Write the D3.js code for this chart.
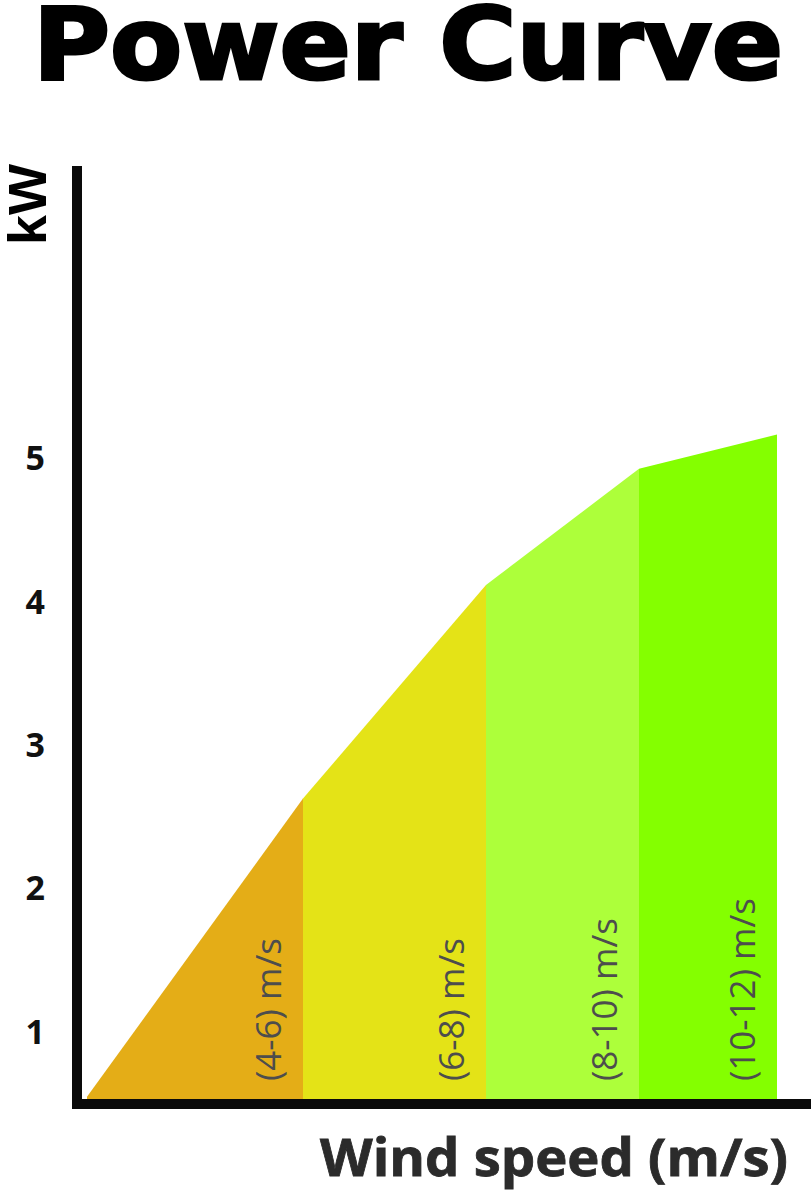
<!DOCTYPE html>
<html lang="en">
<head>
  <meta charset="UTF-8">
  <title>Power Curve</title>
  <script src="https://cdnjs.cloudflare.com/ajax/libs/d3/7.8.5/d3.min.js"></script>
  <style>
    body { margin: 0; background: #fff; }
    svg { display: block; }
  </style>
</head>
<body>
  <div id="chart"></div>
  <script>
    // data
    const speeds = [4, 6, 8, 10, 12];              // m/s
    const power = [0.55, 2.63, 4.12, 4.93, 5.17];  // kW
    const bandLabels = ["(4-6) m/s", "(6-8) m/s", "(8-10) m/s", "(10-12) m/s"];
    const yTicks = [1, 2, 3, 4, 5];

    const bandColors = ["#e4ad17", "#e4e317", "#adff3a", "#84ff00"];

    const W = 812, H = 1192;
    const svg = d3.select("#chart").append("svg")
      .attr("width", W)
      .attr("height", H);

    // x is not evenly spaced in the original, so use a piecewise scale
    const x = d3.scaleLinear()
      .domain(speeds)
      .range([87, 303, 486, 639, 777]);

    const y = d3.scaleLinear()
      .domain([0.5, 7])
      .range([1104, 172]);

    // coloured segments under the curve
    const area = d3.area()
      .x(d => x(d[0]))
      .y0(y(0.5))
      .y1(d => y(d[1]));

    bandLabels.forEach((label, i) => {
      const pts = [[speeds[i], power[i]], [speeds[i + 1], power[i + 1]]];
      svg.append("path")
        .attr("d", area(pts))
        .attr("fill", bandColors[i]);

      svg.append("text")
        .attr("transform", `translate(${x(speeds[i + 1]) - 22},1081) rotate(-90)`)
        .attr("font-family", "'Open Sans', sans-serif")
        .attr("font-size", 35)
        .attr("fill", "#4d4d4d")
        .text(label);
    });

    // axes lines
    svg.append("line")
      .attr("x1", 77).attr("x2", 77)
      .attr("y1", y(7) - 6).attr("y2", y(0.5) + 5)
      .attr("stroke", "#0a0a0a")
      .attr("stroke-width", 10);

    svg.append("line")
      .attr("x1", 72).attr("x2", 811)
      .attr("y1", y(0.5)).attr("y2", y(0.5))
      .attr("stroke", "#0a0a0a")
      .attr("stroke-width", 10);

    // y tick labels
    const yAxis = svg.append("g")
      .attr("transform", "translate(77,0)")
      .call(d3.axisLeft(y).tickValues(yTicks).tickFormat(d3.format("d")).tickSize(0).tickPadding(32));
    yAxis.select(".domain").remove();
    yAxis.selectAll("text")
      .attr("font-family", "'Open Sans', sans-serif")
      .attr("font-weight", "bold")
      .attr("font-size", 34)
      .attr("fill", "#111");

    // title
    svg.append("text")
      .attr("x", 33)
      .attr("y", 79)
      .attr("font-family", "'DejaVu Sans', sans-serif")
      .attr("font-weight", "bold")
      .attr("font-size", 100)
      .attr("textLength", 750)
      .attr("lengthAdjust", "spacingAndGlyphs")
      .attr("fill", "#000")
      .attr("stroke", "#000")
      .attr("stroke-width", 3)
      .text("Power Curve");

    // axis titles
    svg.append("text")
      .attr("transform", "translate(46,245) rotate(-90)")
      .attr("font-family", "'Liberation Sans', sans-serif")
      .attr("font-weight", "bold")
      .attr("font-size", 54)
      .attr("fill", "#000")
      .text("kW");

    svg.append("text")
      .attr("x", 320)
      .attr("y", 1176)
      .attr("font-family", "'Open Sans', sans-serif")
      .attr("font-weight", "bold")
      .attr("font-size", 52)
      .attr("textLength", 468)
      .attr("lengthAdjust", "spacingAndGlyphs")
      .attr("fill", "#2b2b2b")
      .attr("stroke", "#2b2b2b")
      .attr("stroke-width", 0.8)
      .text("Wind speed (m/s)");
  </script>
</body>
</html>
